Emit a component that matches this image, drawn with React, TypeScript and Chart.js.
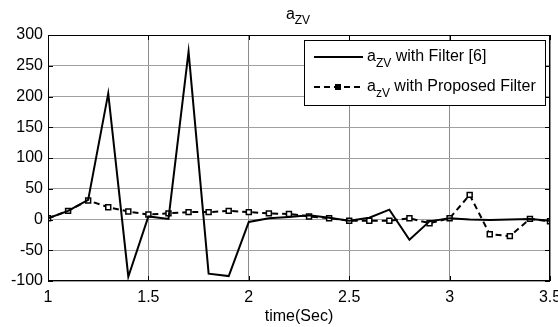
import React, { useEffect, useRef } from "react";
import { Chart, registerables } from "chart.js";

Chart.register(...registerables);

const timeSec = [1.0, 1.1, 1.2, 1.3, 1.4, 1.5, 1.6, 1.7, 1.8, 1.9, 2.0, 2.1, 2.2, 2.3, 2.4, 2.5, 2.6, 2.7, 2.8, 2.9, 3.0, 3.1, 3.2, 3.3, 3.4, 3.5];
const filter6 = [2, 14, 32, 205, -93, 5, 1, 273, -88, -92, -4, 2, 4, 7, 3, -2, 3, 16, -33, -3, 2, 0, -1, 0, 1, -2];
const proposed = [2, 14, 31, 20, 13, 8, 10, 12, 12, 14, 12, 10, 9, 5, 2, -2, -2, -2, 2, -6, 2, 40, -24, -27, 1, -3];

const xTicks = [1, 1.5, 2, 2.5, 3, 3.5];
const yTicks = [-100, -50, 0, 50, 100, 150, 200, 250, 300];

const titleMain = "a";
const titleSub = "ZV";
const xAxisTitle = "time(Sec)";
const legendMain = ["a", "a"];
const legendSub = ["ZV", "zV"];
const legendRest = [" with Filter [6]", " with Proposed Filter"];

const FONT_FAMILY = '"Liberation Sans", Arial, sans-serif';
const MAIN_SIZE = 16;
const SUB_SIZE = 12;

function drawSubText(ctx: CanvasRenderingContext2D, x: number, y: number, main: string, sub: string, rest: string, subOff: number) {
  ctx.textAlign = "left";
  ctx.textBaseline = "alphabetic";
  ctx.font = `${MAIN_SIZE}px ${FONT_FAMILY}`;
  ctx.fillText(main, x, y);
  let cx = x + ctx.measureText(main).width;
  ctx.font = `${SUB_SIZE}px ${FONT_FAMILY}`;
  ctx.fillText(sub, cx, y + subOff);
  cx += ctx.measureText(sub).width;
  ctx.font = `${MAIN_SIZE}px ${FONT_FAMILY}`;
  if (rest) ctx.fillText(rest, cx, y);
}

function measureSubText(ctx: CanvasRenderingContext2D, main: string, sub: string, rest: string) {
  ctx.font = `${MAIN_SIZE}px ${FONT_FAMILY}`;
  let w = ctx.measureText(main).width + ctx.measureText(rest).width;
  ctx.font = `${SUB_SIZE}px ${FONT_FAMILY}`;
  w += ctx.measureText(sub).width;
  return w;
}

const overlayPlugin = {
  id: "overlay",
  afterDatasetsDraw(chart: any) {
    const { ctx, chartArea: a } = chart;
    const xs = chart.scales.x;
    const ys = chart.scales.y;
    ctx.save();
    ctx.strokeStyle = "#000";
    ctx.lineWidth = 1;
    ctx.setLineDash([]);
    // axes box
    ctx.strokeRect(Math.round(a.left) + 0.5, Math.round(a.top) + 0.5, Math.round(a.right - a.left) - 1, Math.round(a.bottom - a.top) - 1);
    // inner ticks
    ctx.beginPath();
    xTicks.forEach((v) => {
      const px = Math.round(xs.getPixelForValue(v)) + 0.5;
      ctx.moveTo(px, a.bottom);
      ctx.lineTo(px, a.bottom - 5);
      ctx.moveTo(px, a.top);
      ctx.lineTo(px, a.top + 5);
    });
    yTicks.forEach((v) => {
      const py = Math.round(ys.getPixelForValue(v)) + 0.5;
      ctx.moveTo(a.left, py);
      ctx.lineTo(a.left + 5, py);
      ctx.moveTo(a.right, py);
      ctx.lineTo(a.right - 5, py);
    });
    ctx.stroke();

    // title
    ctx.fillStyle = "#000";
    const tw = measureSubText(ctx, titleMain, titleSub, "");
    drawSubText(ctx, 298 - tw / 2, 19, titleMain, titleSub, "", 5);

    // legend
    const lx = 304, ly = 40, lw = 241, lh = 65;
    ctx.fillStyle = "#fff";
    ctx.fillRect(lx, ly, lw, lh);
    ctx.strokeStyle = "#000";
    ctx.lineWidth = 1;
    ctx.strokeRect(lx + 0.5, ly + 0.5, lw, lh);

    const rows = [57, 87];
    ctx.lineWidth = 2;
    ctx.beginPath();
    ctx.moveTo(314, rows[0]);
    ctx.lineTo(363, rows[0]);
    ctx.stroke();
    ctx.setLineDash([6, 4]);
    ctx.beginPath();
    ctx.moveTo(314, rows[1]);
    ctx.lineTo(363, rows[1]);
    ctx.stroke();
    ctx.setLineDash([]);
    ctx.fillStyle = "#000";
    ctx.fillRect(335, rows[1] - 3, 6, 6);

    ctx.fillStyle = "#000";
    for (let i = 0; i < 2; i++) {
      drawSubText(ctx, 367, rows[i] + 4, legendMain[i], legendSub[i], legendRest[i], 6);
    }
    ctx.restore();
  },
};

export default function App() {
  const canvasRef = useRef<HTMLCanvasElement | null>(null);

  useEffect(() => {
    document.body.style.margin = "0";
    const canvas = canvasRef.current;
    if (!canvas) return;
    const chart = new Chart(canvas, {
      type: "line",
      data: {
        datasets: [
          {
            label: "a_ZV with Filter [6]",
            data: timeSec.map((t, i) => ({ x: t, y: filter6[i] })),
            borderColor: "#000",
            borderWidth: 2,
            pointRadius: 0,
            tension: 0,
            fill: false,
          },
          {
            label: "a_zV with Proposed Filter",
            data: timeSec.map((t, i) => ({ x: t, y: proposed[i] })),
            borderColor: "#000",
            borderWidth: 2,
            borderDash: [6, 4],
            pointStyle: "rect",
            pointRadius: 3.5,
            pointBorderWidth: 1.5,
            pointBorderColor: "#000",
            pointBackgroundColor: "#fff",
            tension: 0,
            fill: false,
          },
        ],
      },
      options: {
        animation: false,
        responsive: false,
        maintainAspectRatio: false,
        layout: { padding: { top: 35, right: 8, left: 0, bottom: 0 } },
        plugins: {
          legend: { display: false },
          title: { display: false },
          tooltip: { enabled: false },
        },
        scales: {
          x: {
            type: "linear",
            min: 1,
            max: 3.5,
            afterBuildTicks: (scale: any) => {
              scale.ticks = xTicks.map((v) => ({ value: v }));
            },
            afterFit: (scale: any) => {
              scale.height = 46;
              scale.paddingLeft = 0;
              scale.paddingRight = 0;
            },
            ticks: {
              color: "#000",
              font: { family: FONT_FAMILY, size: MAIN_SIZE },
              padding: 7,
              maxRotation: 0,
              autoSkip: false,
              callback: (v: any) => String(Number(v)),
            },
            grid: { color: "#8c8c8c", lineWidth: 1, drawTicks: false },
            border: { display: false },
            title: {
              display: true,
              text: xAxisTitle,
              color: "#000",
              font: { family: FONT_FAMILY, size: MAIN_SIZE },
              padding: { top: 2, bottom: 1 },
            },
          },
          y: {
            type: "linear",
            min: -100,
            max: 300,
            afterBuildTicks: (scale: any) => {
              scale.ticks = yTicks.map((v) => ({ value: v }));
            },
            afterFit: (scale: any) => {
              scale.width = 48;
              scale.paddingTop = 0;
              scale.paddingBottom = 0;
            },
            ticks: {
              color: "#000",
              font: { family: FONT_FAMILY, size: MAIN_SIZE },
              padding: 5,
              autoSkip: false,
            },
            grid: { color: "#a0a0a0", lineWidth: 1, drawTicks: false },
            border: { display: false },
          },
        },
      },
      plugins: [overlayPlugin],
    });
    return () => chart.destroy();
  }, []);

  return (
    <div style={{ width: 558, height: 327, overflow: "hidden", background: "#fff" }}>
      <canvas ref={canvasRef} width={558} height={327} style={{ display: "block" }} />
    </div>
  );
}
